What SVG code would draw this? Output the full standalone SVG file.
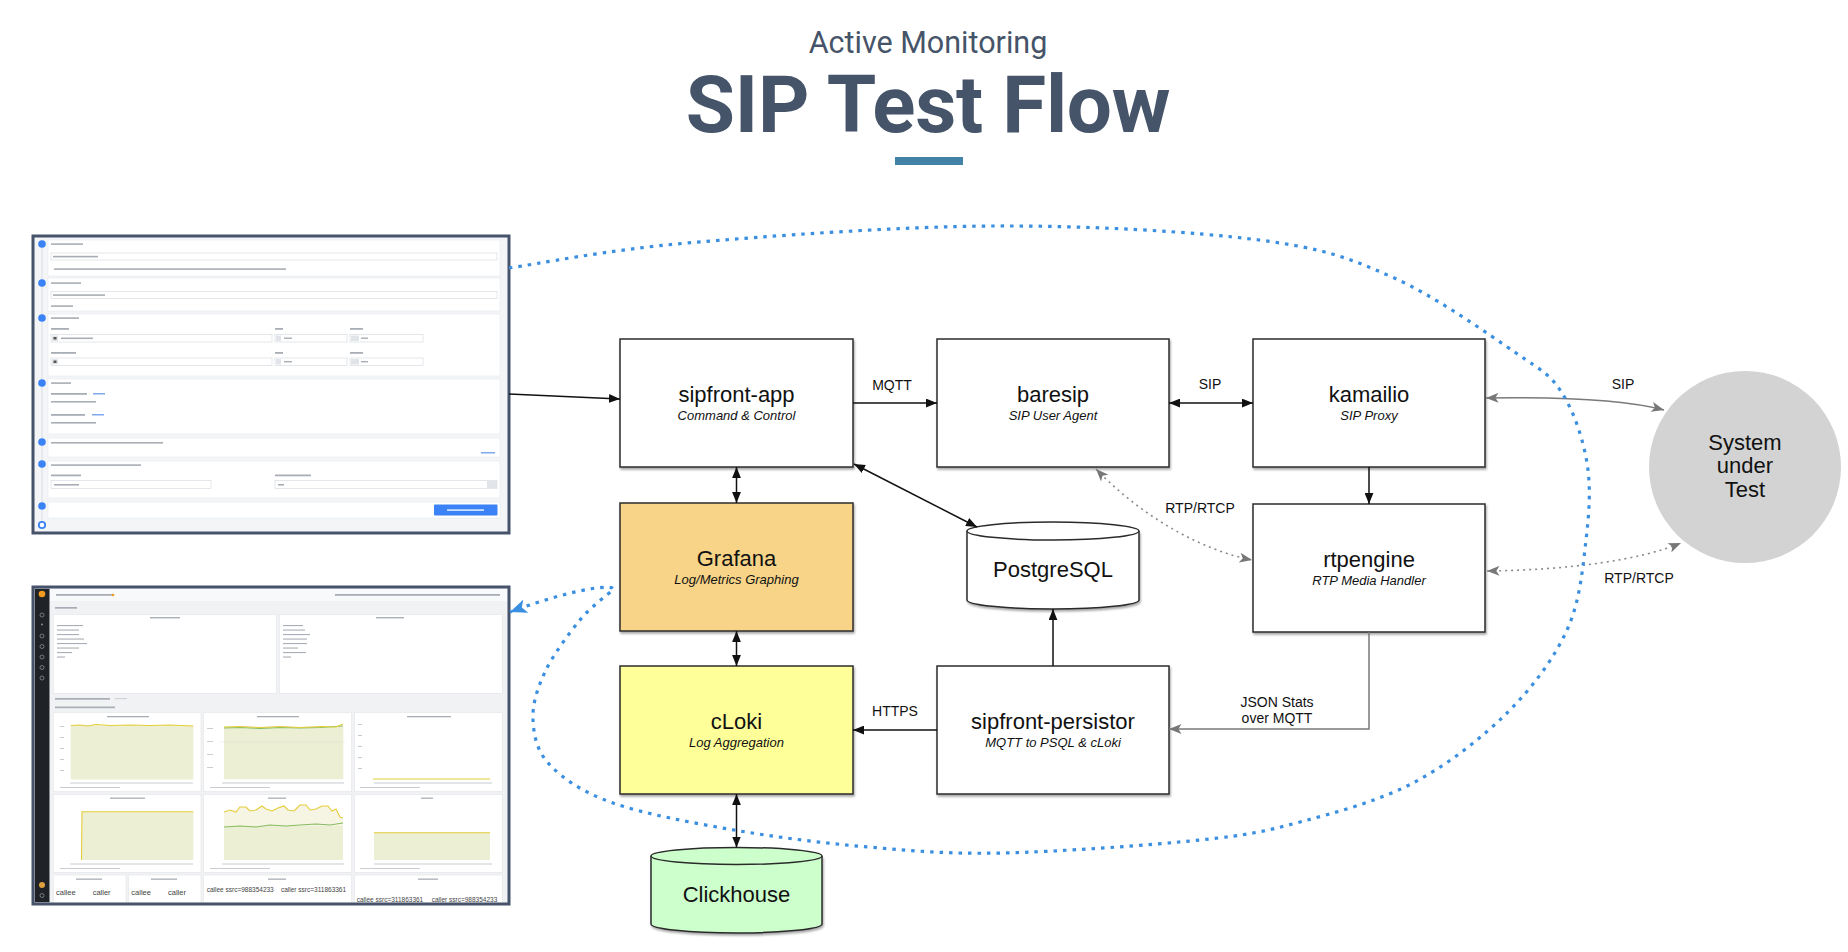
<svg xmlns="http://www.w3.org/2000/svg" width="1848" height="952" viewBox="0 0 1848 952">
<style>
.box{stroke:#2b2b2b;stroke-width:1.5}
.t{font-family:"Liberation Sans",Arial,sans-serif;font-size:22px;fill:#111;text-anchor:middle}
.s{font-family:"Liberation Sans",Arial,sans-serif;font-size:13px;font-style:italic;fill:#111;text-anchor:middle}
.lb{font-family:"Liberation Sans",Arial,sans-serif;font-size:14px;fill:#111;text-anchor:middle}
.c{fill:none;stroke:#111;stroke-width:1.5}
.g{fill:none;stroke:#7a7a7a;stroke-width:1.5}
.gd{fill:none;stroke:#8a8a8a;stroke-width:1.6;stroke-dasharray:2 4}
.bl{fill:none;stroke:#3b8fe0;stroke-width:3.2;stroke-dasharray:3.5 6}
.pnl{fill:#fff;stroke:#e6e9ed;stroke-width:.6}
.inp{fill:#fff;stroke:#d8dce1;stroke-width:.7}
.tb{fill:#a9aeb6}
.dot{fill:#3b82f6}
.gp{fill:#fff;stroke:#e3e5e8;stroke-width:.6}
.ar{fill:#ecefd4}
.yl{fill:none;stroke:#e3cd3a;stroke-width:1.1}
.gl{fill:none;stroke:#86bd62;stroke-width:1.1}
.st{font-family:"Liberation Sans",Arial,sans-serif;fill:#444}
</style>
<defs>
<filter id="sh" x="-5%" y="-5%" width="115%" height="120%"><feDropShadow dx="1" dy="2" stdDeviation="1.2" flood-color="#000" flood-opacity="0.35"/></filter>
<marker id="ab" viewBox="0 0 10 8" refX="10" refY="4" markerWidth="11" markerHeight="9" markerUnits="userSpaceOnUse" orient="auto-start-reverse"><path d="M0,0 L10,4 L0,8 z" fill="#111"/></marker>
<marker id="ag" viewBox="0 0 10 8" refX="10" refY="4" markerWidth="13" markerHeight="10" markerUnits="userSpaceOnUse" orient="auto-start-reverse"><path d="M0,0 L10,4 L0,8 L2.5,4 z" fill="#777"/></marker>
<marker id="abl" viewBox="0 0 12 10" refX="12" refY="5" markerWidth="17" markerHeight="14" markerUnits="userSpaceOnUse" orient="auto"><path d="M0,0 L12,5 L0,10 L3,5 z" fill="#3b8fe0"/></marker>
<clipPath id="clipG"><rect x="34.5" y="588.5" width="473" height="314"/></clipPath>
</defs>
<rect width="1848" height="952" fill="#fff"/>

<g id="title">
<text x="928" y="53" font-family="Roboto, 'Liberation Sans', sans-serif" font-size="30.5" fill="#465469" text-anchor="middle">Active Monitoring</text>
<text x="928" y="132" font-family="Roboto, 'Liberation Sans', sans-serif" font-size="80" font-weight="bold" letter-spacing="-0.3" fill="#465469" text-anchor="middle">SIP Test Flow</text>
<rect x="895" y="157" width="68" height="8" fill="#4282a6"/>
</g>

<g id="screenshot-form">
<rect x="33" y="236" width="476" height="297" fill="#f3f5f7"/>
<line x1="42" y1="244" x2="42" y2="525" stroke="#d9dee4" stroke-width="1"/>
<rect class="pnl" x="48" y="240" width="452" height="36"/>
<rect class="pnl" x="48" y="278" width="452" height="33"/>
<rect class="pnl" x="48" y="314" width="452" height="62"/>
<rect class="pnl" x="48" y="379" width="452" height="55"/>
<rect class="pnl" x="48" y="438" width="452" height="19"/>
<rect class="pnl" x="48" y="461" width="452" height="37"/>
<rect class="pnl" x="48" y="502" width="452" height="16"/>
<circle class="dot" cx="42" cy="244" r="3.8"/><circle class="dot" cx="42" cy="283" r="3.8"/><circle class="dot" cx="42" cy="318" r="3.8"/><circle class="dot" cx="42" cy="383" r="3.8"/><circle class="dot" cx="42" cy="442" r="3.8"/><circle class="dot" cx="42" cy="464" r="3.8"/><circle class="dot" cx="42" cy="506" r="3.8"/><circle cx="42" cy="525" r="3.2" fill="#fff" stroke="#3b82f6" stroke-width="1.8"/>
<rect class="tb" x="51" y="243.3" width="32" height="1.6"/>
<rect class="inp" x="51" y="253" width="446" height="7"/><rect class="tb" x="53" y="255.8" width="45" height="1.6"/>
<rect class="tb" x="54" y="268.3" width="232" height="1.6"/>
<rect class="tb" x="51" y="282.3" width="30" height="1.6"/>
<rect class="inp" x="51" y="291.5" width="446" height="7"/><rect class="tb" x="53" y="294.3" width="52" height="1.6"/>
<rect class="tb" x="51" y="305.3" width="22" height="1.6"/>
<rect class="tb" x="51" y="317.3" width="28" height="1.6"/>
<rect class="tb" x="51" y="328" width="18" height="1.8"/><rect class="tb" x="275" y="328" width="8" height="1.8"/><rect class="tb" x="350" y="328" width="13" height="1.8"/>
<rect class="inp" x="51" y="334.5" width="221" height="7.5"/><rect class="inp" x="275" y="334.5" width="72" height="7.5"/><rect class="inp" x="350" y="334.5" width="73" height="7.5"/>
<rect x="52" y="335.5" width="6" height="5.5" fill="#e1e4e8"/><rect x="53.5" y="337" width="3" height="2.5" fill="#555"/><rect class="tb" x="61" y="337.5" width="32" height="1.6"/>
<rect x="276" y="335.5" width="5" height="5.5" fill="#e1e4e8"/><rect x="351" y="335.5" width="8" height="5.5" fill="#e1e4e8"/><rect class="tb" x="284" y="337.5" width="8" height="1.4"/><rect class="tb" x="361" y="337.5" width="7" height="1.4"/>
<rect class="tb" x="51" y="352" width="25" height="1.8"/><rect class="tb" x="275" y="352" width="8" height="1.8"/><rect class="tb" x="350" y="352" width="13" height="1.8"/>
<rect class="inp" x="51" y="358" width="221" height="7.5"/><rect class="inp" x="275" y="358" width="72" height="7.5"/><rect class="inp" x="350" y="358" width="73" height="7.5"/>
<rect x="52" y="359" width="6" height="5.5" fill="#e1e4e8"/><rect x="53.5" y="360.5" width="3" height="2.5" fill="#555"/>
<rect x="276" y="359" width="5" height="5.5" fill="#e1e4e8"/><rect x="351" y="359" width="8" height="5.5" fill="#e1e4e8"/><rect class="tb" x="284" y="361" width="8" height="1.4"/><rect class="tb" x="361" y="361" width="7" height="1.4"/>
<rect class="tb" x="51" y="382.3" width="20" height="1.6"/>
<rect class="tb" x="51" y="393" width="36" height="1.8"/><rect x="93" y="393" width="12" height="1.5" fill="#7fa9ec"/>
<rect class="tb" x="51" y="401" width="45" height="1.6"/>
<rect class="tb" x="51" y="414" width="34" height="1.8"/><rect x="92" y="414" width="12" height="1.5" fill="#7fa9ec"/>
<rect class="tb" x="51" y="422" width="45" height="1.6"/>
<rect class="tb" x="51" y="442" width="112" height="1.6"/><rect x="481" y="452" width="14" height="1.5" fill="#7fa9ec"/>
<rect class="tb" x="51" y="464.3" width="90" height="1.6"/>
<rect class="tb" x="51" y="474.5" width="30" height="1.8"/><rect class="tb" x="275" y="474.5" width="36" height="1.8"/>
<rect class="inp" x="51" y="480.5" width="160" height="8"/><rect class="tb" x="54" y="484" width="25" height="1.6"/>
<rect class="inp" x="275" y="480.5" width="222" height="8"/><rect class="tb" x="278" y="484" width="6" height="1.6"/><rect x="487" y="481" width="10" height="7" fill="#e1e4e8"/>
<rect x="434" y="504.5" width="63.5" height="11" rx="1" fill="#3b82f6"/><rect x="447" y="509.3" width="37" height="1.6" fill="#dbe8fd"/>
<rect x="33" y="236" width="476" height="297" fill="none" stroke="#46536a" stroke-width="3"/>
</g>

<g id="screenshot-grafana">
<rect x="33" y="587" width="476" height="317" fill="#f1f2f4"/>
<g clip-path="url(#clipG)">
<rect x="34.5" y="588.5" width="15" height="314" fill="#1f2227"/>
<circle cx="42" cy="594" r="3.3" fill="#f29a1f"/>
<circle cx="42" cy="615" r="2" fill="none" stroke="#8a8d92" stroke-width=".8"/><circle cx="42" cy="624.5" r="1" fill="#8a8d92"/><circle cx="42" cy="636" r="2" fill="none" stroke="#8a8d92" stroke-width=".8"/><circle cx="42" cy="646.5" r="2" fill="none" stroke="#8a8d92" stroke-width=".8"/><circle cx="42" cy="657" r="2" fill="none" stroke="#8a8d92" stroke-width=".8"/><circle cx="42" cy="667.5" r="2" fill="none" stroke="#8a8d92" stroke-width=".8"/><circle cx="42" cy="678" r="2" fill="none" stroke="#8a8d92" stroke-width=".8"/>
<circle cx="42" cy="885" r="3" fill="#e0a040"/><circle cx="42" cy="895.5" r="2" fill="none" stroke="#8a8d92" stroke-width=".8"/>
<rect x="50" y="589" width="458" height="12" fill="#f8f9fa"/>
<rect class="tb" x="56" y="594" width="58" height="1.8"/><circle cx="113" cy="595" r="1.3" fill="#f29a1f"/>
<rect class="tb" x="335" y="594" width="165" height="1.8"/>
<rect class="tb" x="55" y="607" width="22" height="1.7"/>
<rect class="gp" x="53.3" y="614.3" width="223.4" height="79"/>
<rect class="gp" x="279.3" y="614.3" width="223" height="79"/>
<rect class="tb" x="150" y="617" width="30" height="1.4"/><rect class="tb" x="376" y="617" width="28" height="1.4"/>
<g class="tb"><rect x="57" y="625" width="26" height="1.1"/><rect x="57" y="629.5" width="22" height="1.1"/><rect x="57" y="634" width="22" height="1.1"/><rect x="57" y="638.5" width="27" height="1.1"/><rect x="57" y="643" width="30" height="1.1"/><rect x="57" y="647.5" width="22" height="1.1"/><rect x="57" y="652" width="15" height="1.1"/><rect x="57" y="656.5" width="8" height="1.1"/>
<rect x="283" y="625" width="20" height="1.1"/><rect x="283" y="629.5" width="22" height="1.1"/><rect x="283" y="634" width="27" height="1.1"/><rect x="283" y="638.5" width="24" height="1.1"/><rect x="283" y="643" width="24" height="1.1"/><rect x="283" y="647.5" width="15" height="1.1"/><rect x="283" y="652" width="23" height="1.1"/><rect x="283" y="656.5" width="8" height="1.1"/></g>
<rect class="tb" x="55" y="698" width="55" height="1.7"/><rect x="115" y="698" width="12" height="1.2" fill="#d0d3d8"/>
<rect class="tb" x="55" y="706.5" width="60" height="1.7"/>
<rect class="gp" x="53.3" y="712.7" width="147.7" height="79"/>
<rect class="gp" x="203.7" y="712.7" width="148" height="79"/>
<rect class="gp" x="354.3" y="712.7" width="148" height="79"/>
<rect class="tb" x="107" y="716" width="42" height="1.3"/><rect class="tb" x="257" y="716" width="42" height="1.3"/><rect class="tb" x="407" y="716" width="44" height="1.3"/>
<rect class="ar" x="70.7" y="725.5" width="122.6" height="54"/>
<path class="yl" d="M70.7,725.5 L80,725 L88,726 L96,724.5 L110,725.5 L130,725 L150,725.5 L170,725 L193.3,726"/>
<rect class="ar" x="224" y="727" width="119.3" height="52.3"/>
<path class="gl" d="M224,728 L240,727.5 L260,728.5 L280,727.5 L300,728 L320,727.5 L343,726"/>
<path class="yl" d="M224,727 L240,726.5 L260,727.5 L280,726.5 L300,727.5 L320,726.5 L336,727 L343,724"/>
<line x1="220" y1="742" x2="345" y2="742" stroke="#dedfd2" stroke-width=".5"/>
<line x1="373" y1="779" x2="490" y2="779" stroke="#e3cd3a" stroke-width="1.1"/>
<g fill="#c9ccd1"><rect x="60" y="726" width="4" height="1"/><rect x="60" y="737" width="4" height="1"/><rect x="60" y="748" width="4" height="1"/><rect x="60" y="759" width="4" height="1"/><rect x="60" y="770" width="4" height="1"/>
<rect x="207" y="728" width="6" height="1"/><rect x="207" y="741" width="6" height="1"/><rect x="207" y="754" width="6" height="1"/><rect x="207" y="767" width="6" height="1"/>
<rect x="358" y="724" width="4" height="1"/><rect x="358" y="735" width="4" height="1"/><rect x="358" y="746" width="4" height="1"/><rect x="358" y="757" width="4" height="1"/><rect x="358" y="768" width="4" height="1"/>
<rect x="70" y="782.5" width="123" height="1"/><rect x="222" y="782.5" width="122" height="1"/><rect x="374" y="782.5" width="118" height="1"/>
<rect x="60" y="787" width="60" height="1"/><rect x="210" y="787" width="60" height="1"/><rect x="360" y="787" width="60" height="1"/></g>
<rect class="gp" x="53.3" y="794.3" width="147.7" height="78"/>
<rect class="gp" x="203.7" y="794.3" width="148" height="78"/>
<rect class="gp" x="354.3" y="794.3" width="148" height="78"/>
<rect class="tb" x="110" y="797.5" width="35" height="1.3"/><rect class="tb" x="268" y="797.5" width="18" height="1.3"/><rect class="tb" x="421" y="797.5" width="12" height="1.3"/>
<rect class="ar" x="82" y="811.7" width="111.3" height="48.3"/>
<path class="yl" d="M81.5,860 L82,811.7 L193.3,811.7"/>
<path d="M224,812 L230,810 L236,812 L240,807 L246,807 L250,811 L256,810 L262,806 L266,809 L272,811 L278,808 L284,806 L288,810 L294,811 L300,805 L306,805 L310,810 L316,809 L322,806 L328,806 L332,811 L336,809 L340,817 L343,818 L343,860 L224,860 z" fill="#f6f4e2"/>
<rect class="ar" x="224" y="826" width="119" height="34"/>
<path class="gl" d="M224,827 L240,826 L256,827 L270,825 L286,826 L300,825 L316,824 L330,825 L343,823"/>
<path class="yl" d="M224,812 L230,810 L236,812 L240,807 L246,807 L250,811 L256,810 L262,806 L266,809 L272,811 L278,808 L284,806 L288,810 L294,811 L300,805 L306,805 L310,810 L316,809 L322,806 L328,806 L332,811 L336,809 L340,817 L343,818"/>
<rect class="ar" x="374" y="832.7" width="116" height="27.3"/>
<line class="yl" x1="374" y1="832.7" x2="490" y2="832.7"/>
<g fill="#c9ccd1"><rect x="70" y="863.5" width="123" height="1"/><rect x="222" y="863.5" width="122" height="1"/><rect x="374" y="863.5" width="118" height="1"/>
<rect x="60" y="868" width="60" height="1"/><rect x="210" y="868" width="60" height="1"/><rect x="360" y="868" width="60" height="1"/></g>
<rect class="gp" x="53.3" y="875" width="72.7" height="30"/>
<rect class="gp" x="128.7" y="875" width="72.3" height="30"/>
<rect class="gp" x="203.7" y="875" width="148" height="30"/>
<rect class="gp" x="354.3" y="875" width="148" height="30"/>
<rect class="tb" x="76" y="878.5" width="26" height="1.3"/><rect class="tb" x="151" y="878.5" width="26" height="1.3"/><rect class="tb" x="268" y="878.5" width="18" height="1.3"/><rect class="tb" x="418" y="878.5" width="20" height="1.3"/>
<text class="st" x="56" y="895" font-size="7.5">callee</text>
<text class="st" x="92.7" y="895" font-size="7.5">caller</text>
<text class="st" x="131.3" y="895" font-size="7.5">callee</text>
<text class="st" x="168" y="895" font-size="7.5">caller</text>
<text class="st" x="206.7" y="892.3" font-size="6.5">callee ssrc=988354233</text>
<text class="st" x="281" y="892.3" font-size="6.5">caller ssrc=311863361</text>
<text class="st" x="356.7" y="902" font-size="6.5">callee ssrc=311863361</text>
<text class="st" x="431.7" y="902" font-size="6.5">caller ssrc=988354233</text>
</g>
<rect x="33" y="587" width="476" height="317" fill="none" stroke="#46536a" stroke-width="3"/>
</g>

<g id="sipfront-app"><rect class="box" x="620" y="339" width="233" height="128" fill="#fff" filter="url(#sh)"/><text class="t" x="736.5" y="402">sipfront-app</text><text class="s" x="736.5" y="420">Command &amp; Control</text></g>
<g id="baresip"><rect class="box" x="937" y="339" width="232" height="128" fill="#fff" filter="url(#sh)"/><text class="t" x="1053" y="402">baresip</text><text class="s" x="1053" y="420">SIP User Agent</text></g>
<g id="kamailio"><rect class="box" x="1253" y="339" width="232" height="128" fill="#fff" filter="url(#sh)"/><text class="t" x="1369" y="402">kamailio</text><text class="s" x="1369" y="420">SIP Proxy</text></g>
<g id="grafana"><rect class="box" x="620" y="503" width="233" height="128" fill="#f7d488" filter="url(#sh)"/><text class="t" x="736.5" y="566">Grafana</text><text class="s" x="736.5" y="584">Log/Metrics Graphing</text></g>
<g id="rtpengine"><rect class="box" x="1253" y="504" width="232" height="128" fill="#fff" filter="url(#sh)"/><text class="t" x="1369" y="567">rtpengine</text><text class="s" x="1369" y="585">RTP Media Handler</text></g>
<g id="postgresql"><path class="box" d="M967,531 L967,600 A86,9 0 0 0 1139,600 L1139,531" fill="#fff" filter="url(#sh)"/><ellipse class="box" cx="1053" cy="531" rx="86" ry="9" fill="#fff"/><text class="t" x="1053" y="577">PostgreSQL</text></g>
<g id="cloki"><rect class="box" x="620" y="666" width="233" height="128" fill="#ffff99" filter="url(#sh)"/><text class="t" x="736.5" y="729">cLoki</text><text class="s" x="736.5" y="747">Log Aggregation</text></g>
<g id="sipfront-persistor"><rect class="box" x="937" y="666" width="232" height="128" fill="#fff" filter="url(#sh)"/><text class="t" x="1053" y="729">sipfront-persistor</text><text class="s" x="1053" y="747">MQTT to PSQL &amp; cLoki</text></g>
<g id="clickhouse"><path class="box" d="M651,856 L651,924 A85.5,9 0 0 0 822,924 L822,856" fill="#ccffcc" filter="url(#sh)"/><ellipse class="box" cx="736.5" cy="856" rx="85.5" ry="8.5" fill="#ccffcc"/><text class="t" x="736.5" y="902">Clickhouse</text></g>
<g id="system-under-test"><circle cx="1745" cy="467" r="96" fill="#d3d3d3"/><text class="t" x="1745" y="450" font-size="20">System</text><text class="t" x="1745" y="473" font-size="20">under</text><text class="t" x="1745" y="497" font-size="20">Test</text></g>

<g id="connectors">
<path class="c" d="M509,394 L620,399" marker-end="url(#ab)"/>
<path class="c" d="M853,403 L937,403" marker-end="url(#ab)"/>
<path class="c" d="M1169,403 L1253,403" marker-start="url(#ab)" marker-end="url(#ab)"/>
<path class="c" d="M1369,467 L1369,504" marker-end="url(#ab)"/>
<path class="c" d="M736.5,467 L736.5,503" marker-start="url(#ab)" marker-end="url(#ab)"/>
<path class="c" d="M736.5,631 L736.5,666" marker-start="url(#ab)" marker-end="url(#ab)"/>
<path class="c" d="M736.5,794 L736.5,847.5" marker-start="url(#ab)" marker-end="url(#ab)"/>
<path class="c" d="M854,464 L977,527" marker-start="url(#ab)" marker-end="url(#ab)"/>
<path class="c" d="M1053,666 L1053,609" marker-end="url(#ab)"/>
<path class="c" d="M937,730 L853,730" marker-end="url(#ab)"/>
<path class="g" d="M1369,632 L1369,729 L1169,729" marker-end="url(#ag)"/>
<path class="g" d="M1486,398 C1560,397 1625,400 1664,410" marker-start="url(#ag)" marker-end="url(#ag)"/>
<path class="gd" d="M1487,571 C1570,570 1640,560 1681,543" marker-start="url(#ag)" marker-end="url(#ag)"/>
<path class="gd" d="M1096,469 C1140,515 1200,550 1252,560" marker-start="url(#ag)" marker-end="url(#ag)"/>
<path class="bl" d="M509,268 C538.7,263.8 606.2,250 687,243 C767.8,236 898.7,226.5 994,226 C1089.3,225.5 1192.7,231.5 1259,240 C1325.3,248.5 1349.2,258.2 1392,277 C1434.8,295.8 1487.7,333.7 1516,353 C1544.3,372.3 1550.2,374.7 1562,393 C1573.8,411.3 1583,438.5 1587,463 C1591,487.5 1589.3,512.2 1586,540 C1582.7,567.8 1580.2,601.2 1567,630 C1553.8,658.8 1532.7,687.5 1507,713 C1481.3,738.5 1447.5,764.8 1413,783 C1378.5,801.2 1335.5,812.5 1300,822 C1264.5,831.5 1249.7,834.8 1200,840 C1150.3,845.2 1057.3,851.8 1002,853 C946.7,854.2 912.7,850.8 868,847 C823.3,843.2 776.5,837.3 734,830 C691.5,822.7 643.7,813.8 613,803 C582.3,792.2 563.3,778.8 550,765 C536.7,751.2 533.8,735.5 533,720 C532.2,704.5 537.2,688.7 545,672 C552.8,655.3 568.7,633.7 580,620 C591.3,606.3 606,596 613,590 C618,584 580,586 510,612" marker-end="url(#abl)"/>
<text class="lb" x="892" y="390">MQTT</text>
<text class="lb" x="1210" y="389">SIP</text>
<text class="lb" x="1623" y="389">SIP</text>
<text class="lb" x="1200" y="513">RTP/RTCP</text>
<text class="lb" x="1639" y="583">RTP/RTCP</text>
<text class="lb" x="895" y="716">HTTPS</text>
<text class="lb" x="1277" y="707">JSON Stats</text>
<text class="lb" x="1277" y="723">over MQTT</text>
</g>
</svg>
